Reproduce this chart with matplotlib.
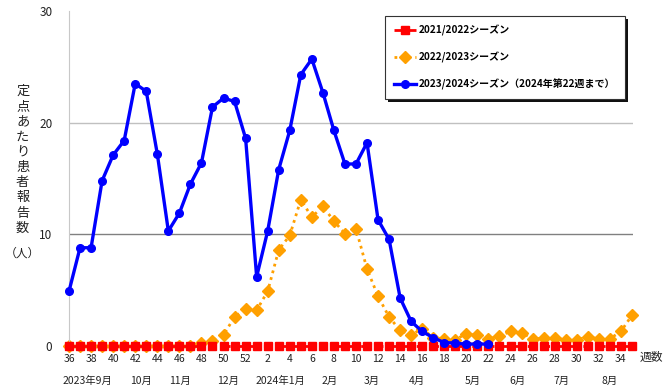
import matplotlib
matplotlib.use("Agg")
import matplotlib.pyplot as plt
import matplotlib.transforms as mtransforms
from matplotlib.patches import Rectangle

plt.rcParams['font.family'] = ['Noto Sans CJK JP', 'DejaVu Sans']

# Epidemiological weeks: week 36 of one year through week 35 of the next
weeks = list(range(36, 53)) + list(range(1, 36))

season_2122 = [0.0] * 52

season_2223 = [0.0, 0.0, 0.0, 0.0, 0.0, 0.0, 0.0, 0.0, 0.0, 0.0, 0.0, 0.0,
               0.27, 0.45, 1.0, 2.6, 3.3, 3.2, 4.9, 8.6, 9.9, 13.1, 11.55,
               12.5, 11.2, 10.05, 10.5, 6.9, 4.45, 2.6, 1.4, 1.0, 1.55, 0.75,
               0.65, 0.57, 1.1, 1.0, 0.65, 0.9, 1.3, 1.2, 0.65, 0.7, 0.7,
               0.57, 0.57, 0.8, 0.65, 0.65, 1.3, 2.75]

# 2023/2024 season, reported through week 22 of 2024
season_2324 = [4.9, 8.8, 8.8, 14.8, 17.1, 18.4, 23.5, 22.8, 17.2, 10.3, 11.9,
               14.5, 16.4, 21.4, 22.2, 21.9, 18.6, 6.2, 10.3, 15.8, 19.3, 24.3,
               25.7, 22.7, 19.3, 16.3, 16.3, 18.2, 11.3, 9.55, 4.3, 2.2, 1.3,
               0.75, 0.3, 0.27, 0.15, 0.2, 0.15]

labels = ['2021/2022シーズン', '2022/2023シーズン',
          '2023/2024シーズン（2024年第22週まで）']

month_labels = ['2023年9月', '10月', '11月', '12月', '2024年1月', '2月',
                '3月', '4月', '5月', '6月', '7月', '8月']
month_pos = [1.63, 6.5, 10.1, 14.4, 19.2, 23.6, 27.4, 31.5, 36.6, 40.6, 44.6, 49.0]

fig = plt.figure(figsize=(6.66, 3.9), dpi=100)
ax = fig.add_axes([0.1036, 0.1128, 0.8469, 0.859])

x_all = list(range(len(weeks)))

ax.plot(x_all, season_2122, color='#FF0000', linestyle=(0, (3, 2)), linewidth=2,
        marker='s', markersize=6, label=labels[0], clip_on=False, zorder=3)
ax.plot(x_all, season_2223, color='#FFA000', linestyle=(0, (1, 1.5)), linewidth=2,
        marker='D', markersize=6, label=labels[1], clip_on=False, zorder=2)
ax.plot(x_all[:len(season_2324)], season_2324, color='#0000FF', linestyle='-',
        linewidth=2.4, marker='o', markersize=5.5, label=labels[2],
        clip_on=False, zorder=4)

ax.set_xlim(0, 51.1)
ax.set_ylim(0, 30)
ax.set_yticks([0, 10, 20, 30])
ax.set_xticks(x_all[0::2])
ax.set_xticklabels([str(w) for w in weeks[0::2]])
ax.tick_params(axis='both', length=0, labelsize=7.5, colors='#222222')
ax.tick_params(axis='y', pad=12, labelsize=8.5)
ax.tick_params(axis='x', pad=6)

ax.grid(axis='y', color='#c0c0c0', linewidth=1)
gl = ax.get_ygridlines()
gl[1].set_color('#808080')
gl[0].set_visible(False)
gl[3].set_visible(False)
ax.set_axisbelow(True)

for side in ['top', 'right', 'bottom']:
    ax.spines[side].set_visible(False)
ax.spines['left'].set_color('#c8c8c8')

# Month labels under the week numbers
trans = mtransforms.blended_transform_factory(ax.transData, ax.transAxes)
for lab, pos in zip(month_labels, month_pos):
    ax.text(pos, -0.105, lab, transform=trans, ha='center', va='center',
            fontsize=7.5, color='#222222')

ax.text(1.011, -0.035, '週数', transform=ax.transAxes, ha='left', va='center',
        fontsize=8.5, color='#222222')

# Vertical y-axis label, one character per line
fig.text(0.034, 0.59, '\n'.join('定点あたり患者報告数'), ha='center', va='center',
         fontsize=9.5, linespacing=1.22, color='#222222')
fig.text(0.034, 0.352, '（人）', ha='center', va='center', fontsize=8.5,
         color='#222222')

leg = ax.legend(loc='upper right', bbox_to_anchor=(0.994, 0.999), frameon=True,
                fancybox=False, shadow=False,
                edgecolor='#333333', framealpha=1, labelspacing=1.55,
                handlelength=2.2, handletextpad=0.3, borderpad=0.9,
                prop={'size': 7.2, 'weight': 'bold'})
leg.get_frame().set_linewidth(0.8)

# Thin black drop shadow behind the legend box
fig.canvas.draw()
bb = leg.get_window_extent()
ax.add_patch(Rectangle((bb.x0 + 3, bb.y0 - 3), bb.width, bb.height,
                       transform=None, facecolor='#111111', edgecolor='none',
                       zorder=4.9, clip_on=False))

fig.savefig('out.png', dpi=100, facecolor='white')
